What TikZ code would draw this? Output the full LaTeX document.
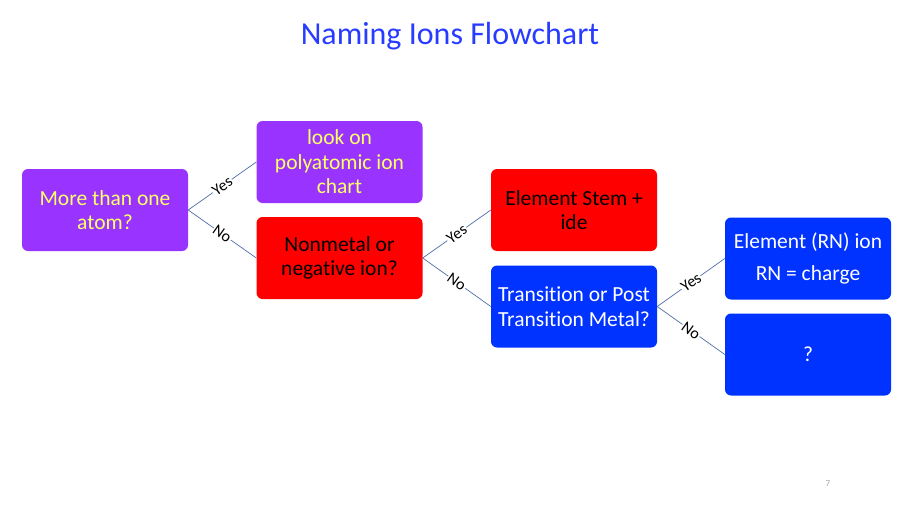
\documentclass[tikz,border=0pt]{standalone}
\usepackage{fontspec}
\setmainfont{Carlito}[Ligatures=NoCommon]
\definecolor{boxpurple}{RGB}{153,51,255}
\definecolor{boxred}{RGB}{255,0,0}
\definecolor{boxblue}{RGB}{0,51,255}
\definecolor{textyellow}{RGB}{255,255,102}
\definecolor{titleblue}{RGB}{40,60,255}
\definecolor{linkblue}{RGB}{80,110,170}
\usetikzlibrary{positioning}

\begin{document}
\begin{tikzpicture}[x=1pt, y=-1pt,
    stepbox/.style={rectangle, rounded corners=6pt, minimum width=166pt, minimum height=82pt,
        align=center, inner sep=0pt, font=\fontsize{21.5}{24.5}\selectfont},
    purplebox/.style={stepbox, fill=boxpurple, text=textyellow},
    redbox/.style={stepbox, fill=boxred, text=black},
    bluebox/.style={stepbox, fill=boxblue, text=white},
    link/.style={draw=linkblue, line width=0.7pt},
    answer/.style={sloped, fill=white, inner sep=1pt, font=\fontsize{16}{18}\selectfont}]
    \useasboundingbox[fill=white] (0,0) rectangle (900,506);

    % Title
    \node[text=titleblue, font=\fontsize{32}{36}\selectfont] (title) at (450,36) {Naming Ions Flowchart};

    % Boxes
    \node[purplebox] (atoms) at (105,210) {More than one\\atom?};
    \node[purplebox] (poly) at (339.5,162) {look on\\polyatomic ion\\chart};
    \node[redbox] (nonmetal) at (339.5,258) {Nonmetal or\\negative ion?};
    \node[redbox] (stem) at (574,210) {Element Stem +\\ide};
    \node[bluebox] (transition) at (574,306.5) {Transition or Post\\Transition Metal?};
    \node[bluebox] (roman) at (808,258.5) {Element (RN) ion\\[8pt]RN = charge};
    \node[bluebox] (unknown) at (808,354.5) {?};

    % Links
    \draw[link] (atoms.east) -- node[answer] {Yes} (poly.west);
    \draw[link] (atoms.east) -- node[answer] {No} (nonmetal.west);
    \draw[link] (nonmetal.east) -- node[answer] {Yes} (stem.west);
    \draw[link] (nonmetal.east) -- node[answer] {No} (transition.west);
    \draw[link] (transition.east) -- node[answer] {Yes} (roman.west);
    \draw[link] (transition.east) -- node[answer] {No} (unknown.west);

    % Page number
    \node[text=gray!70, font=\fontsize{9}{10}\selectfont] (page) at (828,484) {7};
\end{tikzpicture}
\end{document}
